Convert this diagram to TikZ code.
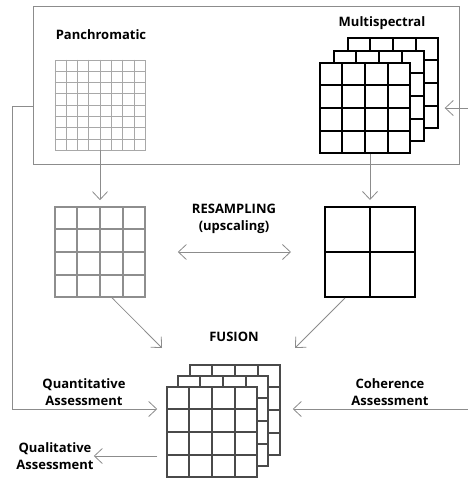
\documentclass[tikz,border=0pt]{standalone}
\usepackage{fontspec}
\setsansfont{Open Sans}
\usetikzlibrary{positioning,calc,arrows.meta,shadows}
\definecolor{lineGray}{HTML}{8C8C8C}
\definecolor{panGray}{HTML}{A8A8A8}
\definecolor{midGray}{HTML}{8E8E8E}
\definecolor{fusGray}{HTML}{4A4A4A}

\tikzset{
  cellbox/.style={draw, fill=white, inner sep=0pt, minimum size=90pt,
    drop shadow={shadow xshift=1.2pt, shadow yshift=-1.2pt, opacity=.3}},
  flow/.style={lineGray, line width=0.8pt, -{Straight Barb[length=8pt,width=15pt]}},
  title/.style={font=\sffamily\bfseries\fontsize{13}{17}\selectfont, align=center, inner sep=0pt},
}

% inner grid lines of a cell box: node, cells per side, line style
\newcommand{\cellgrid}[3]{%
  \pgfmathtruncatemacro\glast{#2-1}
  \foreach \k in {1,...,\glast} {
    \draw[#3] ($(#1.north west)!\k/#2!(#1.north east)$) -- ($(#1.south west)!\k/#2!(#1.south east)$);
    \draw[#3] ($(#1.north west)!\k/#2!(#1.south west)$) -- ($(#1.north east)!\k/#2!(#1.south east)$);
  }}

\begin{document}
\begin{tikzpicture}[x=1pt, y=-1pt]
\useasboundingbox (0,0) rectangle (468,480);

% --- INPUT FRAME ---
\node[draw=lineGray, line width=0.8pt, minimum width=426pt, minimum height=158pt, inner sep=0pt]
  (inbox) at (246,85) {};

% --- PANCHROMATIC (8 x 8) ---
\node[title] (panlab) at (101,35) {Panchromatic};
\node[cellbox, draw=panGray, line width=0.9pt] (pan) at (100,105) {};
\cellgrid{pan}{8}{panGray, line width=0.8pt}

% --- MULTISPECTRAL STACK (4 x 4) ---
\node[title] (mslab) at (382,23) {Multispectral};
\node[cellbox, line width=1.4pt] (msback) at (393,83) {};
\cellgrid{msback}{4}{line width=1.4pt}
\node[cellbox, line width=1.4pt] (msmid) at (379,96) {};
\cellgrid{msmid}{4}{line width=1.4pt}
\node[cellbox, line width=1.4pt] (msfront) at (365,108) {};
\cellgrid{msfront}{4}{line width=1.4pt}

% --- RESAMPLED GRIDS ---
\node[cellbox, draw=midGray, line width=1.6pt] (panup) at (100,252) {};
\cellgrid{panup}{4}{midGray, line width=1.6pt}
\node[cellbox, line width=2pt] (msup) at (370,252) {};
\cellgrid{msup}{2}{line width=2pt}
\node[title] (resamp) at (234,219) {RESAMPLING\\(upscaling)};

% --- FUSION STACK ---
\node[title] (fuslab) at (234,337) {FUSION};
\node[cellbox, draw=fusGray, line width=1.5pt] (fusback) at (235,410) {};
\cellgrid{fusback}{4}{fusGray, line width=1.5pt}
\node[cellbox, draw=fusGray, line width=1.5pt] (fusmid) at (223,421) {};
\cellgrid{fusmid}{4}{fusGray, line width=1.5pt}
\node[cellbox, draw=fusGray, line width=1.5pt] (fusfront) at (212,432) {};
\cellgrid{fusfront}{4}{fusGray, line width=1.5pt}

% --- ASSESSMENT LABELS ---
\node[title] (quant) at (84,392) {Quantitative\\Assessment};
\node[title] (coher) at (390,392) {Coherence\\Assessment};
\node[title] (quali) at (55,456) {Qualitative\\Assessment};

% --- CONNECTORS ---
\coordinate (msin) at (468,108);
\coordinate (cohin) at (468,409);
\coordinate (fbk) at (12,409);
\coordinate (fusinL) at (162,348);
\coordinate (fusinR) at (295,348);

\draw[flow] (msin) -- ($(msback.east |- msin)+(6,0)$);
\draw[flow] (pan.south) -- ([yshift=6pt]panup.north);
\draw[flow] (msup.north |- msfront.south) -- ([yshift=6pt]msup.north);
\draw[flow, {Straight Barb[length=8pt,width=15pt]}-{Straight Barb[length=8pt,width=15pt]}]
  ([xshift=32pt]panup.east) -- ([xshift=-33pt]msup.west);
\draw[flow] ([xshift=12pt]panup.south) -- (fusinL);
\draw[flow] ([xshift=-25pt]msup.south) -- (fusinR);
\draw[flow] ($(inbox.west)+(0,21)$) -| (fbk) -- ($(fusfront.west)+(-9,-23)$);
\draw[flow] (cohin) -- ($(fusback.east |- cohin)+(12,0)$);
\draw[flow] ($(fusfront.west)+(-9,24)$) -- (quali.east);

\end{tikzpicture}
\end{document}
